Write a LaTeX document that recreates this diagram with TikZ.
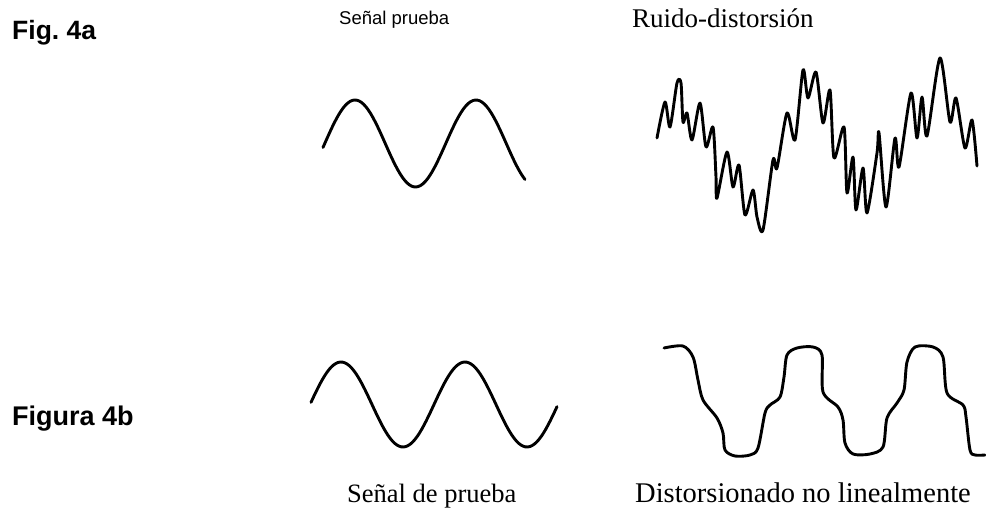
\documentclass[tikz,border=0pt]{standalone}
\usepackage{fontspec}
\setmainfont{Liberation Serif}
\newfontfamily\arialfont{Liberation Sans}
\begin{document}
\begin{tikzpicture}[x=1pt,y=-1pt,
        signal/.style={line width=2.9pt,line cap=round,line join=round},
        figlabel/.style={anchor=base west,inner sep=0pt,font=\arialfont\bfseries\fontsize{26.5}{30}\selectfont},
        caption/.style={anchor=base west,inner sep=0pt}]
        \useasboundingbox (0,0) rectangle (986,508);
        \node[figlabel] (fig4a) at (12,40) {Fig.\ 4a};
        \node[figlabel,font=\arialfont\bfseries\fontsize{27}{31}\selectfont] (fig4b) at (12,425) {Figura 4b};
        \node[caption,font=\arialfont\fontsize{18.5}{22}\selectfont] (testtop) at (339,25) {Señal prueba};
        \node[caption,font=\fontsize{27}{31}\selectfont] (noisetop) at (632,28) {Ruido-distorsión};
        \node[caption,font=\fontsize{26.5}{31}\selectfont] (testbot) at (347,502) {Señal de prueba};
        \node[caption,font=\fontsize{28.5}{33}\selectfont] (distbot) at (635,502) {Distorsionado no linealmente};
        \draw[signal] plot[domain=323:525,samples=90] (\x,{143.5-43.5*cos(2.9752*(\x-355))});
        \draw[signal] plot[domain=311:557,samples=110] (\x,{404.5-42.5*cos(2.9032*(\x-341))});
        \draw[signal] plot[smooth,tension=0.45] coordinates {(657,138) (665,102) (670,127) (677,83) (681,83) (683,122) (687,113) (692,140) (700,103) (706,147) (713,127) (716,177) (717,198) (727,152) (733,187) (739,165) (745,215) (753,190) (757,217) (763,230) (773,160) (777,168) (787,113) (795,140) (803,70) (808,98) (816,72) (823,123) (830,90) (834,158) (844,127) (847,193) (853,157) (856,210) (863,168) (867,213) (877,153) (879,133) (886,207) (895,138) (899,167) (911,93) (917,138) (922,97) (927,136) (940,58) (950,122) (956,98) (965,148) (972,120) (977,166)};
        \draw[signal] plot[smooth,tension=0.5] coordinates {(664,348) (683,346) (693,357) (698,380) (703,400) (717,418) (723,433) (725,450) (735,456) (750,455) (758,448) (765,413) (770,405) (780,397) (784,377) (787,355) (797,348) (813,347) (822,355) (823,392) (838,407) (843,420) (845,443) (853,454) (870,454) (883,447) (887,418) (897,403) (904,390) (907,362) (915,347) (933,347) (943,357) (947,393) (963,405) (966,417) (970,450) (975,455) (985,455)};
\end{tikzpicture}
\end{document}
